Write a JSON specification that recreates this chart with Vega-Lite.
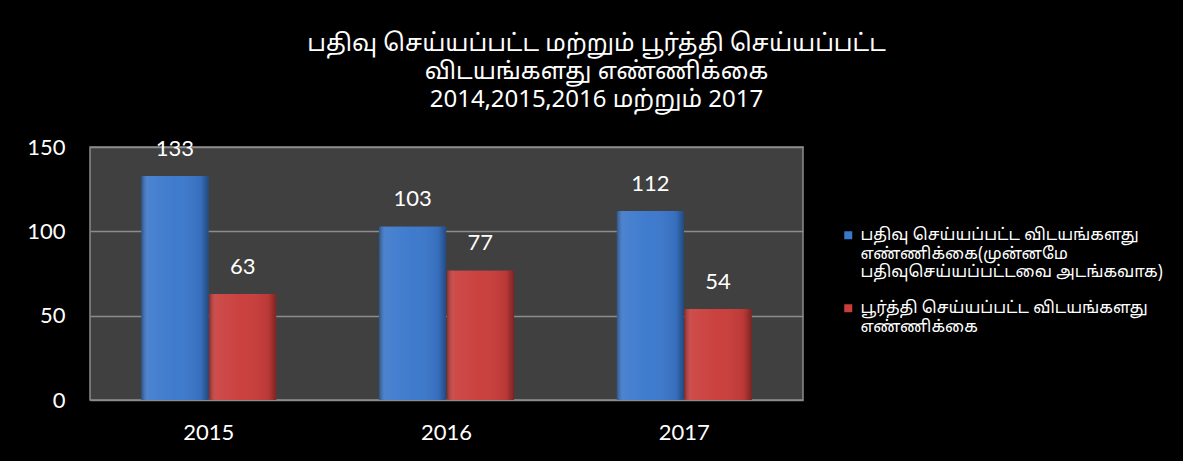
{
  "$schema": "https://vega.github.io/schema/vega-lite/v6.json",
  "width": 713,
  "height": 253,
  "autosize": {"type": "none"},
  "padding": {"left": 90, "top": 147, "right": 380, "bottom": 61},
  "background": "#000000",
  "title": {
    "text": ["பதிவு செய்யப்பட்ட மற்றும் பூர்த்தி செய்யப்பட்ட", "விடயங்களது எண்ணிக்கை", "2014,2015,2016 மற்றும் 2017"],
    "color": "#ffffff",
    "font": "Noto Sans Tamil, Lohit Tamil, Noto Serif Tamil, serif",
    "fontSize": 24,
    "fontWeight": "normal",
    "lineHeight": 28,
    "anchor": "middle",
    "dx": 150,
    "offset": 24
  },
  "config": {
    "view": {"fill": "#404040", "stroke": "#8c8c8c", "strokeWidth": 1.5},
    "axis": {"labelColor": "#ffffff", "labelFont": "Lato", "labelFontSize": 22, "domain": false, "ticks": false, "title": null}
  },
  "data": {
    "values": [
      {"year": "2015", "series": "பதிவு செய்யப்பட்ட விடயங்களது|எண்ணிக்கை(முன்னமே|பதிவுசெய்யப்பட்டவை அடங்கவாக)", "value": 133},
      {"year": "2015", "series": "பூர்த்தி செய்யப்பட்ட விடயங்களது|எண்ணிக்கை", "value": 63},
      {"year": "2016", "series": "பதிவு செய்யப்பட்ட விடயங்களது|எண்ணிக்கை(முன்னமே|பதிவுசெய்யப்பட்டவை அடங்கவாக)", "value": 103},
      {"year": "2016", "series": "பூர்த்தி செய்யப்பட்ட விடயங்களது|எண்ணிக்கை", "value": 77},
      {"year": "2017", "series": "பதிவு செய்யப்பட்ட விடயங்களது|எண்ணிக்கை(முன்னமே|பதிவுசெய்யப்பட்டவை அடங்கவாக)", "value": 112},
      {"year": "2017", "series": "பூர்த்தி செய்யப்பட்ட விடயங்களது|எண்ணிக்கை", "value": 54}
    ]
  },
  "encoding": {
    "x": {
      "field": "year", "type": "nominal",
      "scale": {"paddingInner": 0.43, "paddingOuter": 0.215},
      "axis": {"labelAngle": 0, "labelPadding": 22, "grid": false}
    },
    "xOffset": {"field": "series", "type": "nominal", "sort": null},
    "y": {
      "field": "value", "type": "quantitative",
      "scale": {"domain": [0, 150]},
      "axis": {"values": [0, 50, 100, 150], "labelPadding": 25, "gridColor": "#8c8c8c", "gridWidth": 1.5}
    }
  },
  "layer": [
    {
      "mark": {"type": "bar", "cornerRadiusTopLeft": 2, "cornerRadiusTopRight": 2},
      "encoding": {
        "color": {
          "field": "series", "type": "nominal", "sort": null,
          "scale": {"range": ["#3b78cc", "#c93d3b"]},
          "legend": {
            "orient": "none",
            "legendX": 750,
            "legendY": 80,
            "title": null,
            "symbolType": "square",
            "symbolSize": 64,
            "symbolStrokeWidth": 0,
            "labelColor": "#ffffff",
            "labelFont": "Noto Sans Tamil, Lohit Tamil, sans-serif",
            "labelFontSize": 16.5,
            "labelLineHeight": 17.5,
            "labelLimit": 400,
            "labelExpr": "split(datum.label, '|')",
            "rowPadding": 19,
            "symbolOffset": 0
          }
        }
      }
    },
    {
      "mark": {
        "type": "bar",
        "cornerRadiusTopLeft": 2, "cornerRadiusTopRight": 2,
        "fill": {
          "gradient": "linear", "x1": 0, "y1": 0, "x2": 1, "y2": 0,
          "stops": [
            {"offset": 0, "color": "rgba(0,0,0,0.35)"},
            {"offset": 0.12, "color": "rgba(255,255,255,0.08)"},
            {"offset": 0.5, "color": "rgba(255,255,255,0.02)"},
            {"offset": 0.88, "color": "rgba(0,0,0,0.08)"},
            {"offset": 1, "color": "rgba(0,0,0,0.4)"}
          ]
        }
      }
    },
    {
      "mark": {"type": "text", "color": "#ffffff", "font": "Lato", "fontSize": 22, "baseline": "middle", "dy": -27},
      "encoding": {"text": {"field": "value", "type": "quantitative"}}
    }
  ]
}
